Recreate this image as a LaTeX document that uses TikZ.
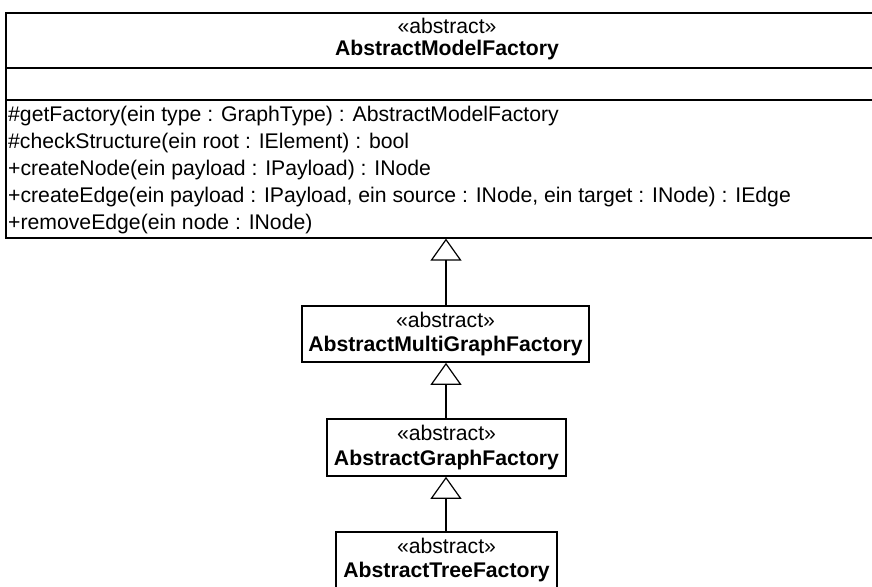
\documentclass[tikz,border=0pt]{standalone}
\usepackage{fontspec}
\setmainfont{Liberation Sans}
\usetikzlibrary{arrows.meta}
\begin{document}
\begin{tikzpicture}[x=1pt,y=-1pt,
  every node/.style={font=\fontsize{21.2}{24.5}\selectfont, inner sep=0pt},
  classbox/.style={draw, line width=1.6pt, rectangle, align=center},
  member/.style={anchor=west},
  frame/.style={line width=1.6pt},
  inherit/.style={line width=1.2pt, -{Triangle[open, length=22pt, width=31pt, line width=1.2pt]}}]
\path[use as bounding box] (0,0) rectangle (872,586);
\clip (0,0) rectangle (872,586);
% top class
\node[draw, frame, rectangle, minimum width=884pt, minimum height=225pt, anchor=north west] (model) at (5,12) {};
\node (mstereo) at (447,26) {«abstract»};
\node[font=\fontsize{21.2}{24.5}\selectfont\bfseries] (mname) at (447,50) {AbstractModelFactory};
\draw[frame] (5,68) -- (889,68);
\draw[frame] (5,100) -- (889,100);
\node[member] (m1) at (8,116) {\#getFactory(ein type : GraphType) : AbstractModelFactory};
\node[member] (m2) at (8,143) {\#checkStructure(ein root : IElement) : bool};
\node[member] (m3) at (8,170) {+createNode(ein payload : IPayload) : INode};
\node[member] (m4) at (8,197) {+createEdge(ein payload : IPayload, ein source : INode, ein target : INode) : IEdge};
\node[member] (m5) at (8,224) {+removeEdge(ein node : INode)};
% subclasses
\node[classbox, minimum width=287pt, minimum height=56pt] (multi) at (445.5,334) {«abstract»\\\textbf{AbstractMultiGraphFactory}};
\node[classbox, minimum width=239pt, minimum height=57pt] (graph) at (446.5,447.5) {«abstract»\\\textbf{AbstractGraphFactory}};
\node[classbox, minimum width=221pt, minimum height=56pt] (tree) at (446.5,560) {«abstract»\\\textbf{AbstractTreeFactory}};
% generalizations
\draw[inherit] (multi.north -| 446,0) -- (model.south -| 446,0);
\draw[inherit] (graph.north -| 446,0) -- (multi.south -| 446,0);
\draw[inherit] (tree.north -| 446,0) -- (graph.south -| 446,0);
\end{tikzpicture}
\end{document}
